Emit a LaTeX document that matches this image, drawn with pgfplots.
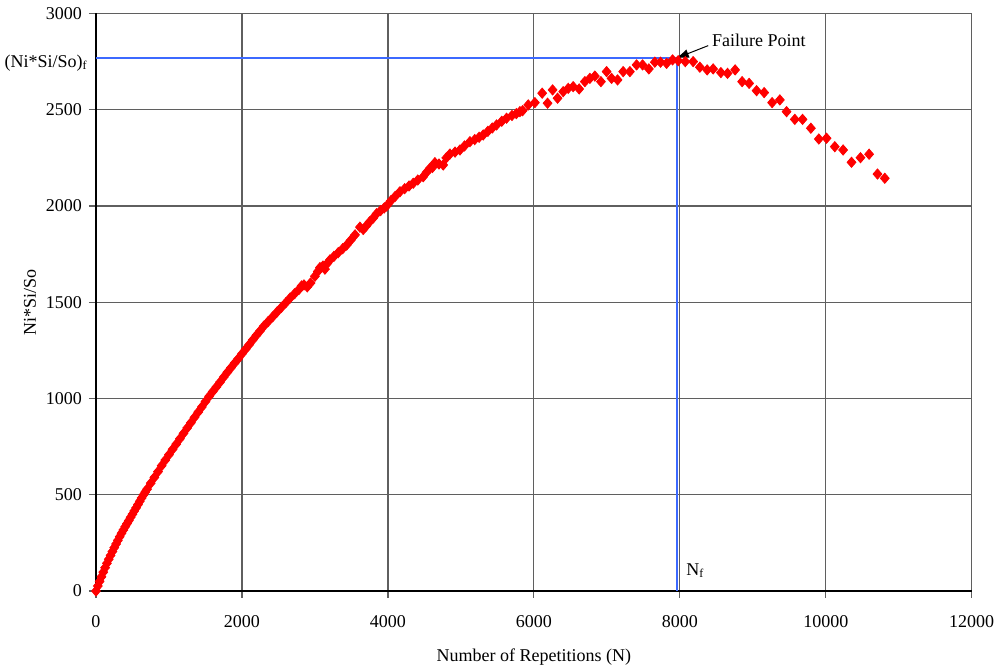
\documentclass[border=0pt]{standalone}
\usepackage{fontspec}
\setmainfont{Liberation Serif}
\usepackage{pgfplots}
\pgfplotsset{compat=1.18}
\usetikzlibrary{arrows.meta}
\definecolor{refblue}{RGB}{60,105,255}
\definecolor{gridgray}{RGB}{95,95,95}

\begin{document}
\begin{tikzpicture}[font=\fontsize{9}{10.8}\selectfont]
\begin{axis}[
  scale only axis, width=437.85pt, height=288.75pt,
  xmin=0, xmax=12000, ymin=0, ymax=3000,
  xtick={0,2000,...,12000}, ytick={0,500,...,3000},
  grid=major, major grid style={gridgray, line width=0.6pt},
  axis x line*=bottom, axis y line*=left,
  axis line style={black, line width=0.6pt, -},
  tick align=outside, major tick length=3.5pt,
  tick style={gridgray, line width=0.6pt},
  scaled ticks=false,
  /pgf/number format/1000 sep={},
  /pgf/number format/assume math mode=true,
  xticklabel style={yshift=-5pt},
  xlabel={Number of Repetitions (N)}, ylabel={Ni*Si/So},
  xlabel style={at={(axis description cs:0.5,-0.1143)}, anchor=center},
  ylabel style={at={(axis description cs:-0.0754,0.5)}, anchor=center},
  clip=false,
]
\addplot[only marks, mark=diamond*, mark size=2.55pt, color=red,
  mark options={xscale=1.15, fill=red, draw=red}] coordinates {
(0,0) (25,26) (50,50) (75,74) (100,98) (125,121) (150,144) (175,165)
(200,185) (225,205) (250,225) (275,244) (300,263) (325,282) (350,300)
(375,317) (400,334) (425,350) (450,366) (475,383) (500,399) (525,416)
(550,432) (575,449) (600,466) (625,483) (650,499) (675,514) (700,529)
(750,560) (800,590) (850,620) (900,651) (950,680) (1000,708) (1050,736)
(1100,763) (1150,791) (1200,819) (1250,847) (1300,874) (1350,902)
(1400,929) (1450,956) (1500,984) (1550,1011) (1600,1036) (1650,1060)
(1700,1085) (1750,1111) (1800,1136) (1850,1160) (1900,1184) (1950,1207)
(2000,1232) (2050,1256) (2100,1280) (2150,1305) (2200,1329) (2250,1352)
(2300,1376) (2360,1400) (2420,1424) (2480,1449) (2540,1473) (2600,1497)
(2660,1522) (2720,1544) (2780,1566) (2818,1585) (2850,1590) (2895,1580)
(2940,1600) (3000,1635) (3040,1660) (3069,1680) (3110,1688) (3137,1672)
(3170,1702) (3206,1720) (3260,1738) (3320,1758) (3380,1778) (3435,1797)
(3490,1822) (3550,1850) (3617,1890) (3662,1878) (3700,1895) (3750,1918)
(3800,1938) (3845,1960) (3900,1976) (3950,1990) (3982,2000) (4040,2027)
(4100,2050) (4165,2074) (4230,2090) (4290,2104) (4347,2118) (4410,2135)
(4484,2152) (4530,2175) (4576,2196) (4610,2200) (4644,2225) (4700,2218)
(4758,2213) (4800,2250) (4850,2270) (4920,2280) (4987,2291) (5050,2312)
(5124,2334) (5190,2345) (5250,2357) (5306,2369) (5370,2388) (5430,2405)
(5489,2421) (5560,2440) (5626,2456) (5700,2470) (5760,2480) (5809,2490)
(5846,2495) (5923,2525) (6014,2537) (6114,2586) (6188,2534) (6257,2603)
(6325,2560) (6402,2594) (6471,2611) (6539,2620) (6621,2608) (6699,2646)
(6768,2663) (6836,2675) (6919,2646) (6997,2698) (7065,2663) (7147,2655)
(7224,2698) (7316,2698) (7408,2733) (7490,2733) (7576,2712) (7658,2747)
(7736,2747) (7819,2741) (7901,2759) (7978,2755) (8075,2750) (8183,2750)
(8275,2721) (8375,2707) (8457,2712) (8563,2693) (8654,2689) (8758,2707)
(8854,2646) (8950,2637) (9052,2599) (9156,2589) (9265,2537) (9371,2551)
(9463,2490) (9576,2450) (9682,2450) (9796,2404) (9905,2348) (10011,2352)
(10124,2308) (10238,2291) (10353,2227) (10476,2251) (10594,2269)
(10709,2166) (10809,2144)
};
\addplot[refblue, line width=1pt, no marks] coordinates {(0,2770) (7955,2770) (7955,0)};
\node[anchor=base east, inner sep=0pt] at (axis cs:-110,2720) {(Ni*Si/So)\textsubscript{f}};
\node[anchor=base west, inner sep=0pt] at (axis cs:8083,83) {N\textsubscript{f}};
\node[anchor=base west, inner sep=0pt] at (axis cs:8439,2828) {Failure Point};
\draw[-{Latex[length=6.5pt,width=4.5pt]}, line width=0.5pt, black]
  (axis cs:8389,2833) -- (axis cs:7946,2767);
\end{axis}
\pgfresetboundingbox
\path ([shift={(-48pt,-38.5pt)}]current axis.south west) rectangle ([shift={(12.15pt,6.75pt)}]current axis.north east);
\end{tikzpicture}
\end{document}
